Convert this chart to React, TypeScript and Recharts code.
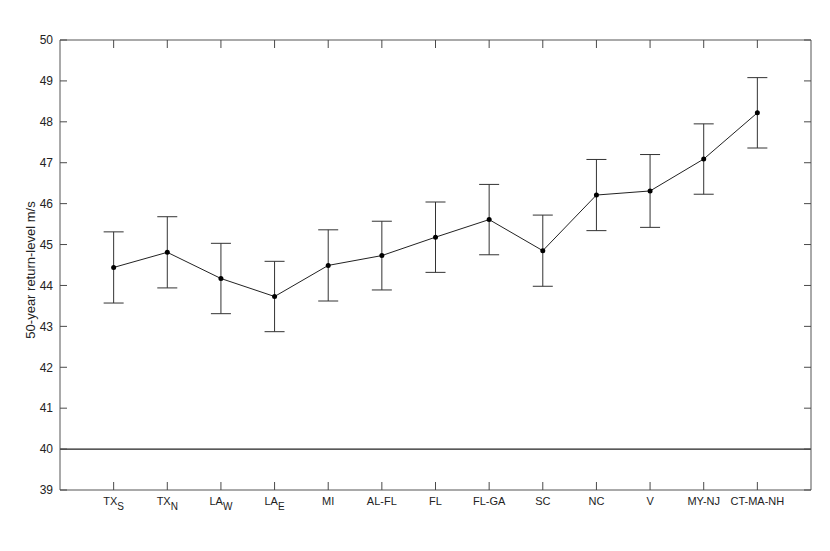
import React from "react";
import {
  ComposedChart, Line, XAxis, YAxis, ErrorBar, ReferenceLine,
} from "recharts";

// region labels, [main, subscript]
const regions: [string, string][] = [
  ["TX", "S"], ["TX", "N"], ["LA", "W"], ["LA", "E"], ["MI", ""], ["AL-FL", ""],
  ["FL", ""], ["FL-GA", ""], ["SC", ""], ["NC", ""], ["V", ""], ["MY-NJ", ""], ["CT-MA-NH", ""],
];
const returnLevel = [44.44, 44.81, 44.17, 43.73, 44.49, 44.73, 45.18, 45.61, 44.85, 46.21, 46.31, 47.09, 48.22];
const errHalf = [0.87, 0.87, 0.86, 0.86, 0.87, 0.84, 0.86, 0.86, 0.87, 0.87, 0.89, 0.86, 0.86];
const yTicks = [39, 40, 41, 42, 43, 44, 45, 46, 47, 48, 49, 50];
const xTicks = regions.map((_, i) => i + 1);

const data = returnLevel.map((v, i) => ({ x: i + 1, value: v, err: errHalf[i] }));

const FONT = "'Liberation Sans', Arial, Helvetica, sans-serif";
const FRAME = "#555";
const TICK = "#4a4a4a";
// tick props arrive offset from the axis line by tickSize + tickMargin
const D = 8;

// ticks drawn inward by hand, labels outside
const BottomTick = (props: any) => {
  const { x, y, payload } = props;
  const r = regions[payload.value - 1];
  const ay = y - D;
  return (
    <g>
      <path d={`M${x},${ay}V${ay - 8}`} stroke={TICK} />
      {r && (
        <text x={x} y={ay + 7} dy="0.71em" textAnchor="middle" fontSize={11} fill="#222" fontFamily={FONT}>
          <tspan>{r[0]}</tspan>
          {r[1] && <tspan dy={5} fontSize={10}>{r[1]}</tspan>}
        </text>
      )}
    </g>
  );
};

const TopTick = (props: any) => (
  <path d={`M${props.x},${props.y + D}V${props.y + D + 8}`} stroke={TICK} />
);

const LeftTick = (props: any) => {
  const { x, y, payload } = props;
  const ax = x + D;
  return (
    <g>
      <path d={`M${ax},${y}H${ax + 7}`} stroke={TICK} />
      <text x={ax - 7} y={y} dy="0.355em" textAnchor="end" fontSize={12} fill="#222" fontFamily={FONT}>
        {payload.value}
      </text>
    </g>
  );
};

const RightTick = (props: any) => (
  <path d={`M${props.x - D},${props.y}H${props.x - D - 7}`} stroke={TICK} />
);

const YLabel = (props: any) => {
  const vb = props.viewBox;
  const cx = vb.x + 10;
  const cy = vb.y + vb.height / 2 + 5;
  return (
    <text x={cx} y={cy} transform={`rotate(-90 ${cx} ${cy})`} textAnchor="middle"
      dominantBaseline="central" fontSize={13} fill="#222" fontFamily={FONT}>
      50-year return-level m/s
    </text>
  );
};

export default function App() {
  return (
    <div style={{ position: "absolute", left: 0, top: 0, background: "#fff" }}>
      <ComposedChart width={830} height={551} data={data}
        margin={{ top: 10, right: 9, bottom: 31, left: 20 }}>
        <XAxis type="number" dataKey="x" domain={[0, 14]} ticks={xTicks} interval={0}
          tickLine={false} tickSize={4} tickMargin={4} stroke={FRAME} tick={<BottomTick />} height={30} />
        <XAxis xAxisId="top" type="number" dataKey="x" orientation="top" domain={[0, 14]}
          ticks={xTicks} interval={0} tickLine={false} tickSize={4} tickMargin={4}
          stroke={FRAME} tick={<TopTick />} height={30} />
        <YAxis domain={[39, 50]} ticks={yTicks} interval={0} tickLine={false} tickSize={4} tickMargin={4}
          stroke={FRAME} width={40} label={<YLabel />} tick={<LeftTick />} />
        <YAxis yAxisId="right" orientation="right" domain={[39, 50]} ticks={yTicks} interval={0}
          tickLine={false} tickSize={4} tickMargin={4} stroke={FRAME} width={10} tick={<RightTick />} />
        <ReferenceLine y={40} stroke="#222" strokeWidth={1.3} />
        {/* invisible series so the mirrored axes get their scales */}
        <Line xAxisId="top" yAxisId="right" dataKey="value" stroke="none" dot={false}
          activeDot={false} isAnimationActive={false} />
        <Line dataKey="value" stroke="#222" strokeWidth={1} isAnimationActive={false}
          dot={{ r: 2.5, fill: "#000", stroke: "#000", strokeWidth: 0 }} activeDot={false}>
          <ErrorBar dataKey="err" width={10} stroke="#333" strokeWidth={1} direction="y" />
        </Line>
      </ComposedChart>
    </div>
  );
}
